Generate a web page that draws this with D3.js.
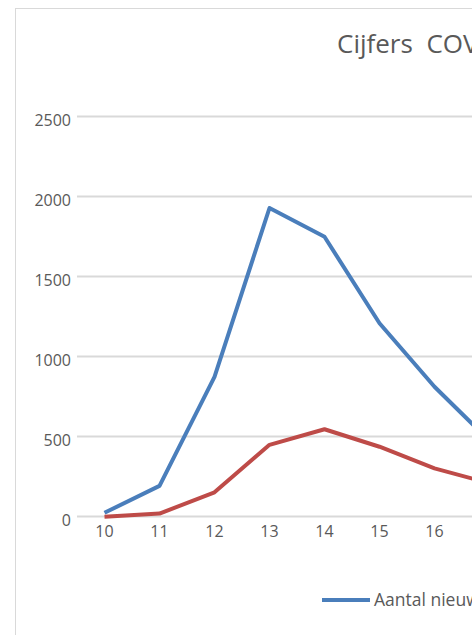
<!DOCTYPE html>
<html lang="nl">
<head>
    <meta charset="UTF-8">
    <title>Cijfers COVID-19</title>
    <style>
        html, body { margin: 0; padding: 0; background: #fff; overflow: hidden; }
        svg { display: block; font-family: "Open Sans", sans-serif; }
        .tick text { fill: #595959; font-family: "Open Sans", sans-serif; font-size: 16px; }
        .grid line { stroke: #d9d9d9; stroke-width: 2px; }
        .series { fill: none; stroke-width: 4px; stroke-linejoin: round; }
    </style>
    <script src="https://d3js.org/d3.v7.min.js"></script>
</head>
<body>
<div id="chart"></div>
<script>
    // week numbers and values
    const weeks = ["10", "11", "12", "13", "14", "15", "16", "17"];
    const nieuweBesmettingen = [20, 188, 870, 1925, 1745, 1205, 808, 470];
    const ziekenhuisOpnames = [-5, 15, 148, 445, 542, 433, 298, 205];
    const yTicks = [0, 500, 1000, 1500, 2000, 2500];
    const seriesNames = ["Aantal nieuwe besmettingen", "Aantal ziekenhuisopnames"];
    const seriesColors = ["#4a7ebb", "#be4b48"];

    const width = 472, height = 635;

    const svg = d3.select("#chart").append("svg")
        .attr("width", width)
        .attr("height", height);

    // chart area border (Excel frame)
    svg.append("rect")
        .attr("x", 15.5).attr("y", 8.5)
        .attr("width", 700).attr("height", 700)
        .attr("fill", "#fff")
        .attr("stroke", "#d9d9d9");

    svg.append("text")
        .attr("x", 337)
        .attr("y", 53)
        .attr("fill", "#595959")
        .style("font-size", "26px")
        .style("white-space", "pre")
        .text("Cijfers  COVID-19 Nederland");

    const x = d3.scaleBand()
        .domain(weeks)
        .range([77, 77 + 55 * weeks.length]);

    const y = d3.scaleLinear()
        .domain([0, 2500])
        .range([516, 116]);

    // gridlines
    svg.append("g")
        .attr("class", "grid")
        .attr("transform", "translate(77,0)")
        .call(d3.axisLeft(y).tickValues(yTicks).tickSize(-(55 * weeks.length)).tickFormat(""))
        .call(g => g.select(".domain").remove());

    // y labels
    svg.append("g")
        .attr("transform", "translate(71,0)")
        .call(d3.axisLeft(y).tickValues(yTicks).tickSize(0).tickPadding(0).tickFormat(d3.format("d")))
        .call(g => g.select(".domain").remove())
        .call(g => g.selectAll("text").attr("dy", "0.6em"));

    // x labels
    svg.append("g")
        .attr("transform", "translate(0,522)")
        .call(d3.axisBottom(x).tickSize(0).tickPadding(4))
        .call(g => g.select(".domain").remove());

    const line = d3.line()
        .x((d, i) => x(weeks[i]) + x.bandwidth() / 2)
        .y(d => y(d));

    [nieuweBesmettingen, ziekenhuisOpnames].forEach((vals, k) => {
        svg.append("path")
            .datum(vals)
            .attr("class", "series")
            .attr("stroke", seriesColors[k])
            .attr("d", line);
    });

    // legend
    const legend = svg.append("g").attr("transform", "translate(322,600)");
    seriesNames.forEach((name, k) => {
        const item = legend.append("g").attr("transform", `translate(${k * 280},0)`);
        item.append("line")
            .attr("x1", 0).attr("x2", 48)
            .attr("stroke", seriesColors[k])
            .attr("stroke-width", 4);
        item.append("text")
            .attr("x", 52)
            .attr("y", 6)
            .attr("fill", "#595959")
            .style("font-size", "17.5px")
            .text(name);
    });
</script>
</body>
</html>
